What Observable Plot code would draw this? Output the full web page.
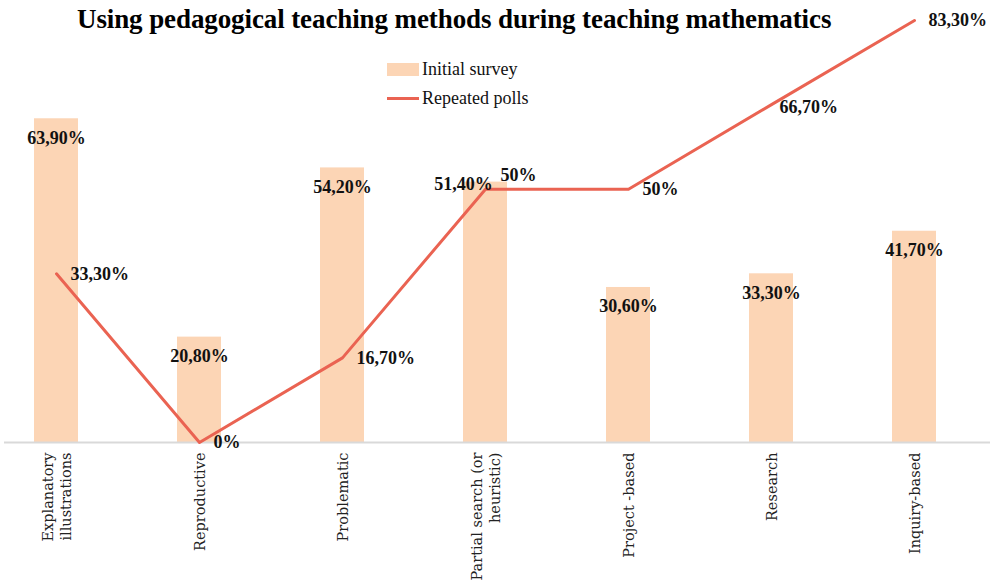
<!DOCTYPE html>
<html>
<head>
<meta charset="utf-8">
<script src="https://cdn.jsdelivr.net/npm/d3@7"></script>
<script src="https://cdn.jsdelivr.net/npm/@observablehq/plot@0.6"></script>
<style>
  body { margin: 0; background: #fff; }
  #wrap { position: relative; width: 992px; height: 582px; overflow: hidden; }
  #title { position: absolute; left: 77px; top: 4px; white-space: nowrap;
    font-family: "Liberation Serif", serif; font-weight: bold; font-size: 27px; color: #000; letter-spacing: -0.1px; }
  .leg { position: absolute; left: 387px; font-family: "Liberation Serif", serif; font-size: 18px; color: #111; }
  .sw { position: absolute; left: 0; width: 32px; }
  .leg span.t { position: absolute; left: 35px; top: 0; white-space: nowrap; line-height: 20px; }
  svg { position: absolute; left: 0; top: 0; }
</style>
</head>
<body>
<div id="wrap">
  <div id="title">Using pedagogical teaching methods during teaching mathematics</div>
  <div class="leg" style="top:59px;"><div class="sw" style="top:4px;height:13px;background:#FCD5B5;"></div><span class="t">Initial survey</span></div>
  <div class="leg" style="top:88px;"><div class="sw" style="top:9px;height:3px;background:#EA6352;"></div><span class="t">Repeated polls</span></div>
</div>
<script>
const categories = ["Explanatory\nillustrations", "Reproductive", "Problematic", "Partial search (or\nheuristic)", "Project -based", "Research", "Inquiry-based"];
const initialSurvey = [63.9, 20.8, 54.2, 51.4, 30.6, 33.3, 41.7];
const repeatedPolls = [33.3, 0, 16.7, 50, 50, 66.7, 83.3];
const initialLabels = ["63,90%", "20,80%", "54,20%", "51,40%", "30,60%", "33,30%", "41,70%"];
const repeatedLabels = ["33,30%", "0%", "16,70%", "50%", "50%", "66,70%", "83,30%"];

const rows = categories.map((c, i) => ({cat: c, a: initialSurvey[i], b: repeatedPolls[i], la: initialLabels[i], lb: repeatedLabels[i], i}));

const labelFont = {fontFamily: "Liberation Serif, serif", fontWeight: "bold", fontSize: 18, fill: "#111"};

const plot = Plot.plot({
  width: 992,
  height: 582,
  marginTop: 20,
  marginBottom: 140,
  marginLeft: 4,
  marginRight: 2,
  x: {domain: categories, range: [-16.75, 987.75], paddingInner: 0.69, paddingOuter: 0.345, align: 0.5, label: null},
  y: {domain: [0, 83.3], axis: null},
  marks: [
    Plot.barY(rows, {x: "cat", y: "a", fill: "#FCD5B5"}),
    Plot.ruleY([0], {stroke: "#D9D9D9", strokeWidth: 2}),
    Plot.lineY(rows, {x: "cat", y: "b", stroke: "#EA6352", strokeWidth: 3}),
    Plot.text(rows.filter(d => d.i !== 3), {x: "cat", y: "a", text: "la", dy: 19, ...labelFont}),
    Plot.text(rows.filter(d => d.i === 3), {x: "cat", y: "a", text: "la", dy: 2, dx: -22, ...labelFont}),
    Plot.text(rows.filter(d => d.i !== 3 && d.i !== 5), {x: "cat", y: "b", text: "lb", dx: 14, textAnchor: "start", ...labelFont}),
    Plot.text(rows.filter(d => d.i === 3), {x: "cat", y: "b", text: "lb", dx: 15, dy: -14, textAnchor: "start", ...labelFont}),
    Plot.text(rows.filter(d => d.i === 5), {x: "cat", y: "b", text: "lb", dx: 8, dy: 3, textAnchor: "start", ...labelFont}),
    Plot.axisX({tickRotate: -90, tickSize: 0, tickPadding: 10, fontFamily: "DejaVu Serif, serif", fontSize: 14.5, fill: "#222", lineHeight: 1.2})
  ]
});
document.getElementById("wrap").appendChild(plot);
</script>
</body>
</html>
